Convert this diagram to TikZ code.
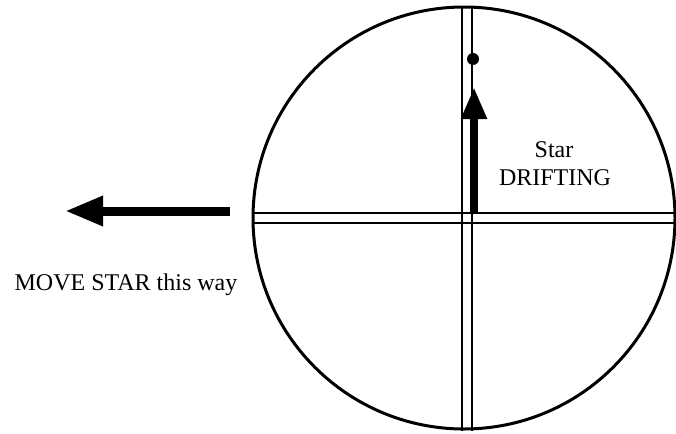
\documentclass[tikz,border=0pt]{standalone}
\usepackage{fontspec}
\setmainfont{Liberation Serif}
\usetikzlibrary{arrows.meta}
\begin{document}
\begin{tikzpicture}[x=1pt,y=-1pt,
  ring/.style={draw,circle,line width=3pt,minimum size=422pt,inner sep=0pt},
  hair/.style={line width=2.4pt},
  bigarrow/.style={line width=9pt,-{Triangle[length=38pt,width=28pt]}},
  driftarrow/.style={line width=8pt,-{Triangle[length=32pt,width=24pt]}},
  label/.style={font=\fontsize{24}{28}\selectfont,inner sep=0pt,anchor=base}]
\useasboundingbox (0,0) rectangle (676,433);
\fill[white] (0,0) rectangle (676,433);
\node[ring] (ring) at (464,218) {};
% crosshair
\coordinate (vlt) at (462,7);
\coordinate (vlb) at (462,431);
\coordinate (vrt) at (472,7);
\coordinate (vrb) at (472,431);
\coordinate (hul) at (253,213);
\coordinate (hur) at (675,213);
\coordinate (hll) at (253,223);
\coordinate (hlr) at (675,223);
\draw[hair] (vlt) -- (vlb);
\draw[hair] (vrt) -- (vrb);
\draw[hair] (hul) -- (hur);
\draw[hair] (hll) -- (hlr);
% star and drift arrow
\node[circle,fill,minimum size=12pt,inner sep=0pt] (star) at (473,59) {};
\coordinate (dstart) at (474,212);
\coordinate (dend) at (474,87);
\draw[driftarrow] (dstart) -- (dend);
% move arrow
\coordinate (mstart) at (230,211);
\coordinate (mend) at (65,211);
\draw[bigarrow] (mstart) -- (mend);
% labels
\node[label] (t1) at (554,157) {Star};
\node[label] (t2) at (555,185) {DRIFTING};
\node[label] (t3) at (126,290) {MOVE STAR this way};
\end{tikzpicture}
\end{document}
